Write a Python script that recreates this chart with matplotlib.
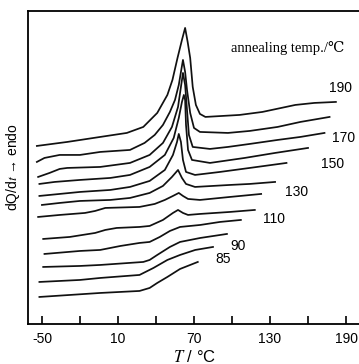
import matplotlib
matplotlib.use("Agg")
import matplotlib.pyplot as plt

plt.rcParams['axes.unicode_minus'] = False
plt.rcParams['mathtext.fontset'] = 'stix'

# DSC traces, T in degC, signal in arbitrary units (curves stacked, top = 190)
t_190 = [-54, -30, -4, 17, 30, 41, 49, 53, 57, 60.5, 63, 65, 67, 69, 71.5, 74.7, 79, 106, 124, 150, 165, 182]
y_190 = [17.8, 18.2, 18.7, 19.1, 19.7, 21.1, 22.9, 24.4, 26.6, 28.4, 29.6, 28.2, 26.6, 23.7, 21.9, 21.0, 20.7, 20.9, 21.2, 21.9, 22.1, 22.2]

t_180 = [-54, -48, -36, -20, -4, 19.5, 31, 39, 45.5, 51, 55, 58, 59.7, 61.3, 63, 64.5, 67, 70, 74.7, 96.8, 114, 136, 154, 177]
y_180 = [16.2, 16.6, 16.9, 16.9, 17.2, 17.4, 18.1, 18.9, 19.9, 21.2, 22.4, 23.9, 25.2, 26.4, 25.2, 23.4, 21.1, 19.6, 19.2, 19.1, 19.3, 19.7, 20.2, 20.7]

t_170 = [-53, -44, -36, -30, -4, 19.5, 35, 45.5, 52.6, 57.4, 59.7, 61.3, 63, 64.5, 66, 69, 82.6, 96.8, 114, 136, 154, 173]
y_170 = [14.7, 15.1, 15.5, 15.6, 15.7, 16.1, 16.9, 18.1, 19.7, 21.7, 23.7, 25.1, 23.9, 21.4, 18.9, 17.7, 17.5, 17.7, 18.0, 18.4, 18.7, 19.1]

t_160 = [-52, -40, -20, 4, 19.5, 35, 47, 54, 58, 60.5, 62, 63, 63.7, 65.3, 68.4, 82.6, 110, 134, 160]
y_160 = [14.0, 14.2, 14.4, 14.6, 14.9, 15.7, 16.9, 18.6, 20.6, 22.2, 22.9, 22.4, 19.9, 17.4, 16.4, 16.1, 16.6, 17.1, 17.6]

t_150 = [-52, -36, -20, 4, 19.5, 35, 47, 53.4, 56.6, 58, 59.7, 61.3, 63.7, 70.8, 90.5, 114, 143]
y_150 = [12.8, 13.0, 13.2, 13.4, 13.7, 14.3, 15.4, 16.9, 18.2, 19.0, 18.2, 16.4, 15.2, 14.9, 15.2, 15.6, 16.1]

t_140 = [-50, -36, -20, 4, 19.5, 35, 45.5, 52.6, 57.4, 60.5, 63.7, 70.8, 98.4, 114, 134]
y_140 = [11.9, 12.1, 12.3, 12.4, 12.6, 13.1, 13.8, 14.7, 15.4, 14.6, 14.0, 13.7, 13.9, 14.0, 14.2]

t_130 = [-53, -36, -16, -8, 0, 27, 39, 47, 53.4, 58, 61.3, 65.3, 74.7, 98.4, 123]
y_130 = [10.7, 10.9, 11.1, 11.3, 11.6, 11.7, 12.0, 12.4, 12.8, 13.1, 12.8, 12.5, 12.4, 12.7, 13.0]

t_120 = [-49, -28, -8, 0, 9, 27, 35, 45.5, 53.4, 57.4, 61.3, 65.3, 74.7, 98.4, 118]
y_120 = [8.5, 8.7, 9.1, 9.4, 9.6, 9.7, 9.8, 10.4, 11.1, 11.4, 11.1, 10.9, 11.0, 11.2, 11.4]

t_110 = [-48, -20, -4, 12, 27, 35, 43, 51, 59, 75, 90.5, 107]
y_110 = [7.0, 7.3, 7.4, 7.8, 8.1, 8.2, 8.7, 9.3, 9.7, 9.9, 10.2, 10.4]

t_100 = [-49, -20, -4, 30, 35, 41, 51, 59, 75, 96]
y_100 = [5.7, 5.8, 5.9, 6.2, 6.4, 6.9, 7.7, 8.2, 8.6, 9.0]

t_90 = [-52, -20, -4, 27, 38, 49, 59, 71, 85]
y_90 = [4.2, 4.4, 4.6, 4.9, 5.6, 6.4, 6.9, 7.4, 7.7]

t_85 = [-52, -4, 27, 35, 41, 49, 59, 73]
y_85 = [2.7, 3.1, 3.3, 3.6, 4.1, 4.7, 5.5, 6.2]

curves = [(t_190, y_190), (t_180, y_180), (t_170, y_170), (t_160, y_160),
          (t_150, y_150), (t_140, y_140), (t_130, y_130), (t_120, y_120),
          (t_110, y_110), (t_100, y_100), (t_90, y_90), (t_85, y_85)]

# curve labels (only some curves are labelled in the original)
label_text = ["190", "170", "150", "130", "110", "90", "85"]
label_t = [185.3, 188.4, 179, 151.3, 133.2, 104.7, 92.9]
label_y = [23.6, 18.6, 16.0, 13.2, 10.5, 7.8, 6.5]

xticks = [-50, -20, 10, 40, 70, 100, 130, 160, 190]
xticklabels = ["-50", "", "10", "", "70", "", "130", "", "190"]

fig = plt.figure(figsize=(3.59, 3.64), dpi=100)
ax = fig.add_axes([0.078, 0.110, 0.93, 0.860])

for t, y in curves:
    ax.plot(t, y, color="#111111", lw=1.25, solid_joinstyle="round")

for s, tx, ty in zip(label_text, label_t, label_y):
    ax.text(tx, ty, s, ha="center", va="center", fontsize=10,
            family=["Liberation Sans", "DejaVu Sans"])

ax.text(144, 27.6, "annealing temp./℃", ha="center", va="center", fontsize=10.5,
        family=["Liberation Serif", "DejaVu Serif"])

ax.set_xlim(-61, 202.5)
ax.set_ylim(0, 31.3)
ax.set_xticks(xticks)
ax.set_xticklabels(xticklabels, family=["Liberation Sans", "DejaVu Sans"], fontsize=10)
ax.set_yticks([])
ax.tick_params(axis="x", direction="in", length=6, width=1.2, pad=6)
ax.spines["right"].set_visible(False)
for sp in ["left", "bottom", "top"]:
    ax.spines[sp].set_linewidth(1.3)

ax.set_ylabel("dQ/d$\\mathit{t}$ → endo", fontsize=10,
              family=["Liberation Sans", "DejaVu Sans"], labelpad=4)
ax.set_xlabel("$\\mathit{T}$ / °C", fontsize=12,
              family=["Liberation Sans", "DejaVu Sans"], labelpad=2)

fig.savefig("out.png", dpi=100)
